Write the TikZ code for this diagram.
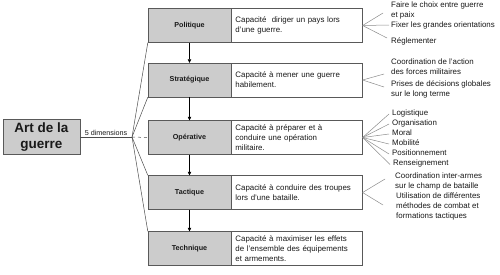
\documentclass[tikz,border=0pt]{standalone}
\usepackage{fontspec}
\setmainfont{Liberation Sans}
\usetikzlibrary{arrows.meta,calc}
\begin{document}
\begin{tikzpicture}[x=1pt,y=-1pt,
  font=\fontsize{7.9}{10}\selectfont, text=black!90,
  mainbox/.style={draw=black!65, fill=black!20, minimum width=77pt, minimum height=35pt, inner sep=0pt, align=center, font=\fontsize{13.5}{16.5}\selectfont\bfseries},
  graybox/.style={draw=black!65, fill=black!20, minimum width=83pt, minimum height=34pt, inner sep=0pt, font=\fontsize{7.2}{9}\selectfont\bfseries},
  whitebox/.style={draw=black!65, fill=white, minimum height=34pt, text width=123pt, inner xsep=4pt, inner ysep=0pt, align=left, anchor=west},
  item/.style={anchor=west, inner sep=0pt, align=left},
  fanl/.style={draw=black!70, line width=0.5pt},
  fanr/.style={draw=black!45, line width=0.5pt},
  arr/.style={draw=black, line width=0.5pt, -{Triangle[length=3.5pt,width=3.5pt]}}
]
\useasboundingbox (0,0) rectangle (500,274);

% main
\node[mainbox] (a) at (41.5,137) {Art de la\\guerre};
\coordinate (f) at (132,137);

% left column
\node[graybox] (p) at (189.5,25.5) {Politique};
\node[graybox] (s) at (189.5,80) {Stratégique};
\node[graybox] (o) at (189.5,137.5) {Opérative};
\node[graybox] (t) at (189.5,192.5) {Tactique};
\node[graybox] (te) at (189.5,248.5) {Technique};

\node[whitebox] (pw) at (p.east) {Capacité \ diriger un pays lors\\d’une guerre.};
\node[whitebox] (sw) at (s.east) {Capacité à mener une guerre\\habilement.};
\node[whitebox] (ow) at (o.east) {Capacité à préparer et à\\conduire une opération\\militaire.};
\node[whitebox] (tw) at (t.east) {Capacité à conduire des troupes\\lors d’une bataille.};
\node[whitebox] (tew) at (te.east) {Capacité à maximiser les effets\\de l’ensemble des équipements\\et armements.};

% arrows
\draw[arr] (p.south) -- (s.north);
\draw[arr] (s.south) -- (o.north);
\draw[arr] (o.south) -- (t.north);
\draw[arr] (t.south) -- (te.north);

% left fan
\draw[fanl] (a.east) -- (f) node[midway, above, inner sep=1pt, font=\fontsize{7.2}{8}\selectfont] {5 dimensions};
\draw[fanl] (f) -- (p.south west);
\draw[fanl] (f) -- (s.south west);
\draw[fanl, dashed] (f) -- (o.west);
\draw[fanl] (f) -- (t.north west);
\draw[fanl] (f) -- (te.north west);

% right items: Politique
\node[item] (p1) at (391,10.5) {Faire le choix entre guerre\\et paix};
\node[item] (p2) at (391,25) {Fixer les grandes orientations};
\node[item] (p3) at (391,41) {Réglementer};
\draw[fanr] (pw.east) -- ([xshift=-8pt,yshift=-2.5pt]p1.west);
\draw[fanr] (pw.east) -- ([xshift=-2pt]p2.west);
\draw[fanr] (pw.east) -- ([xshift=-4pt,yshift=3pt]p3.west);

% Strategique
\node[item] (s1) at (391,66.5) {Coordination de l’action\\des forces militaires};
\node[item] (s2) at (391,89) {Prises de décisions globales\\sur le long terme};
\draw[fanr] (sw.east) -- ([xshift=-7pt,yshift=-7.5pt]s1.west);
\draw[fanr] (sw.east) -- ([xshift=-7pt,yshift=2pt]s2.west);

% Operative
\node[item] (o1) at (392,113) {Logistique};
\node[item] (o2) at (392,123) {Organisation};
\node[item] (o3) at (392,133) {Moral};
\node[item] (o4) at (392,143) {Mobilité};
\node[item] (o5) at (392,153) {Positionnement};
\node[item] (o6) at (393,163.5) {Renseignement};
\foreach \i in {1,...,6}{\draw[fanr] (ow.east) -- ([xshift=-3pt,yshift=-1pt]o\i.west);}

% Tactique
\node[item] (t1) at (395,181) {Coordination inter-armes\\sur le champ de bataille};
\node[item] (t2) at (396,206) {Utilisation de différentes\\méthodes de combat et\\formations tactiques};
\draw[fanr] (tw.east) -- ([xshift=-10pt,yshift=2pt]t1.west);
\draw[fanr] (tw.east) -- ([xshift=-13pt,yshift=1pt]t2.west);
\end{tikzpicture}
\end{document}
